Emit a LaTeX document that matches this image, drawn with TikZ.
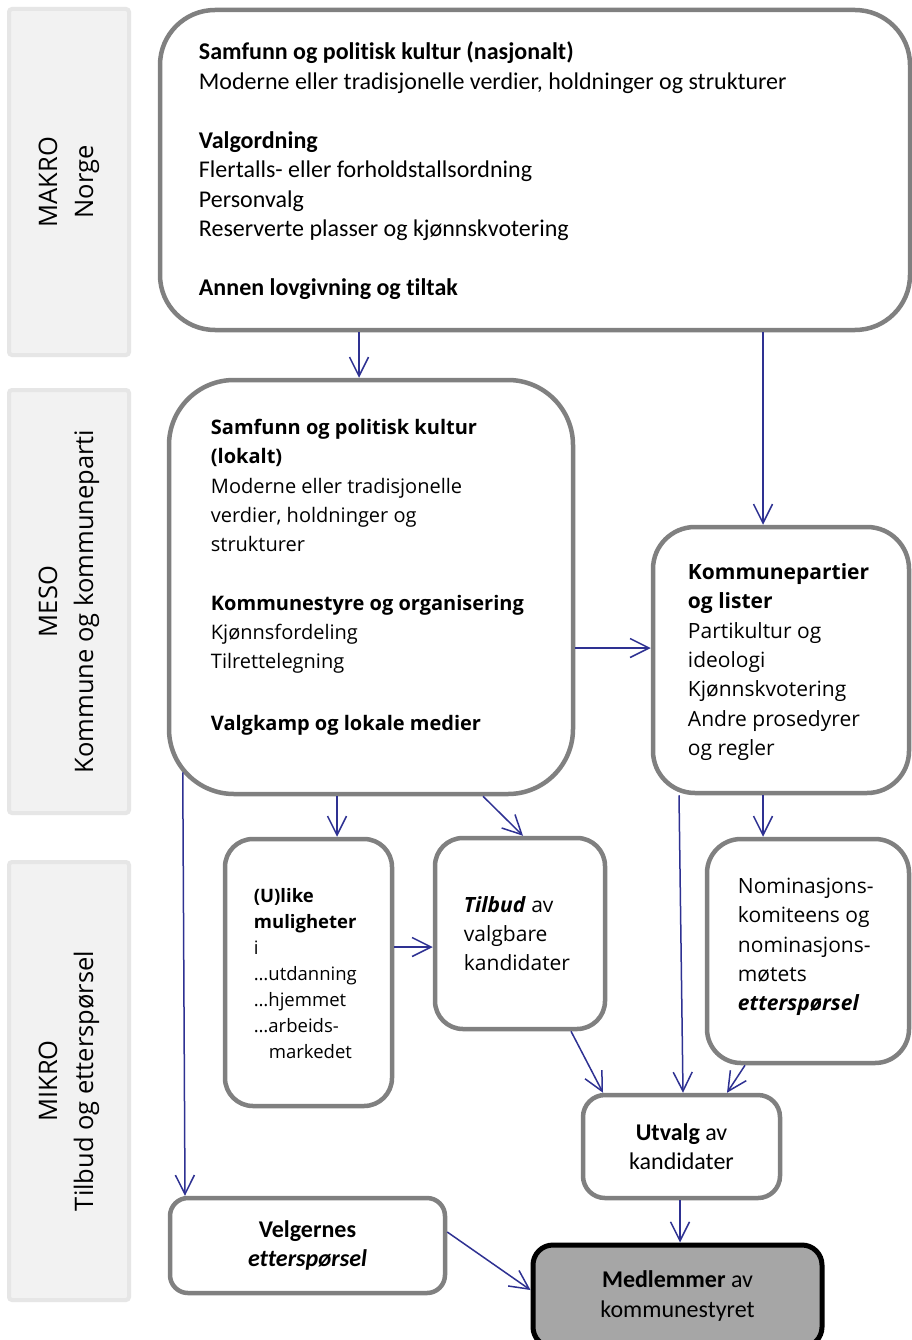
\documentclass[tikz,border=0pt]{standalone}
\usepackage{fontspec}
\setmainfont{Carlito}[Ligatures=NoCommon]
\newfontfamily\segoe{Open Sans}[Ligatures=NoCommon]
\usetikzlibrary{arrows.meta}
\definecolor{boxgray}{RGB}{128,128,128}
\definecolor{sidefill}{RGB}{242,242,242}
\definecolor{sidedraw}{RGB}{230,230,230}
\definecolor{arrowblue}{RGB}{46,49,146}
\definecolor{medfill}{RGB}{166,166,166}
\begin{document}
\begin{tikzpicture}[x=1pt,y=-1pt,
 box/.style={draw=boxgray, line width=4.5pt, fill=white, rectangle, inner sep=0pt},
 side/.style={draw=sidedraw, fill=sidefill, line width=4pt, rounded corners=3pt, rectangle, inner sep=0pt},
 sidetxt/.style={rotate=90, align=center, font=\segoe\fontsize{25.5}{36}\selectfont, inner sep=0pt},
 txt/.style={align=left, inner sep=0pt, anchor=west, font=\fontsize{24}{29.5}\selectfont},
 stxt/.style={align=left, inner sep=0pt, anchor=west, font=\segoe\fontsize{21}{29.3}\selectfont},
 mtxt/.style={align=left, inner sep=0pt, anchor=west, font=\segoe\fontsize{20}{29.3}\selectfont},
 smalltxt/.style={align=left, inner sep=0pt, anchor=west, font=\segoe\fontsize{18.5}{26}\selectfont},
 ctxt/.style={align=center, font=\fontsize{24}{29.5}\selectfont},
 arr/.style={draw=arrowblue, line width=1.5pt, -{Straight Barb[length=19pt,width=19pt]}},
]
\useasboundingbox (0,0) rectangle (912,1340);
\clip (0,0) rectangle (912,1340);
\fill[white] (0,0) rectangle (912,1340);

% side bars
\node[side, minimum width=120, minimum height=346] (makro) at (69,182) {};
\node[side, minimum width=120, minimum height=423] (meso) at (69,601.5) {};
\node[side, minimum width=120, minimum height=438] (mikro) at (69,1081) {};
\node[sidetxt] (makroT) at (makro.center) {MAKRO\\Norge};
\node[sidetxt] (mesoT) at (meso.center) {MESO\\Kommune og kommuneparti};
\node[sidetxt] (mikroT) at (mikro.center) {MIKRO\\Tilbud og etterspørsel};

% boxes
\node[box, rounded corners=55, minimum width=750, minimum height=320] (top) at (535,170) {};
\node[box, rounded corners=65, minimum width=404, minimum height=414] (mesoL) at (371,587) {};
\node[box, rounded corners=42, minimum width=256, minimum height=266] (kp) at (781,660) {};
\node[box, rounded corners=28, minimum width=167, minimum height=267] (ulike) at (308.5,972.5) {};
\node[box, rounded corners=28, minimum width=170, minimum height=191] (tilbud) at (520,933.5) {};
\node[box, rounded corners=34, minimum width=202, minimum height=224] (nom) at (808,951) {};
\node[box, rounded corners=22, minimum width=197, minimum height=103, ctxt] (utvalg) at (681.5,1146.5) {\textbf{Utvalg} av\\kandidater};
\node[box, rounded corners=18, minimum width=275, minimum height=95, ctxt] (velg) at (307.5,1245.5) {\textbf{Velgernes}\\\textbf{\textit{etterspørsel}}};
\node[box, draw=black, fill=medfill, line width=5pt, rounded corners=20, minimum width=289, minimum height=102, ctxt] (medl) at (677.5,1296) {\textbf{Medlemmer} av\\kommunestyret};

% texts
\node[txt] (topT) at ([xshift=41pt,yshift=-1pt]top.west) {\textbf{Samfunn og politisk kultur (nasjonalt)}\\
Moderne eller tradisjonelle verdier, holdninger og strukturer\\[29.5pt]
\textbf{Valgordning}\\
Flertalls- eller forholdstallsordning\\
Personvalg\\
Reserverte plasser og kjønnskvotering\\[29.5pt]
\textbf{Annen lovgivning og tiltak}};

\node[mtxt] (mesoLT) at ([xshift=44pt,yshift=10pt]mesoL.west) {\textbf{Samfunn og politisk kultur}\\
\textbf{(lokalt)}\\
Moderne eller tradisjonelle\\
verdier, holdninger og\\
strukturer\\[29.3pt]
\textbf{Kommunestyre og organisering}\\
Kjønnsfordeling\\
Tilrettelegning\\[32pt]
\textbf{Valgkamp og lokale medier}};

\node[stxt] (kpT) at ([xshift=37pt,yshift=-2pt]kp.west) {\textbf{Kommunepartier}\\
\textbf{og lister}\\
Partikultur og\\
ideologi\\
Kjønnskvotering\\
Andre prosedyrer\\
og regler};

\node[smalltxt] (ulikeT) at ([xshift=31pt,yshift=-1.5pt]ulike.west) {\textbf{(U)like}\\
\textbf{muligheter}\\
i\\
…utdanning\\
…hjemmet\\
…arbeids-\\
\hspace*{15pt}markedet};

\node[stxt] (tilbudT) at ([xshift=31pt]tilbud.west) {\textbf{\textit{Tilbud}} av\\
valgbare\\
kandidater};

\node[stxt] (nomT) at ([xshift=33pt,yshift=4pt]nom.west) {Nominasjons-\\
komiteens og\\
nominasjons-\\
møtets\\
\textbf{\textit{etterspørsel}}};

% connectors
\draw[arr] ([xshift=-176pt]top.south) -- ([xshift=-12pt]mesoL.north);
\draw[arr] ([xshift=228pt]top.south) -- ([xshift=-18pt]kp.north);
\draw[arr] ([yshift=-61pt]mesoL.east) -- ([yshift=12pt]kp.west);
\draw[arr] ([xshift=-34pt]mesoL.south) -- ([xshift=28.5pt]ulike.north);
\draw[arr] ([xshift=112pt]mesoL.south) -- ([xshift=3pt]tilbud.north);
\draw[arr] ([xshift=16pt,yshift=24pt]mesoL.south west) -- ([xshift=-122.5pt]velg.north);
\draw[arr] ([yshift=25.5pt]ulike.east) -- ([yshift=-13.5pt]tilbud.west);
\draw[arr] ([xshift=51pt]tilbud.south) -- ([xshift=-78.5pt]utvalg.north);
\draw[arr] ([xshift=-102pt]kp.south) -- ([xshift=1.5pt]utvalg.north);
\draw[arr] ([xshift=-18pt]kp.south) -- ([xshift=-45pt]nom.north);
\draw[arr] ([xshift=-63pt]nom.south) -- ([xshift=45.5pt]utvalg.north);
\draw[arr] ([xshift=-1.5pt]utvalg.south) -- ([xshift=2.5pt]medl.north);
\draw[arr] ([yshift=13.5pt]velg.east) -- ([yshift=6pt]medl.west);
\end{tikzpicture}
\end{document}
